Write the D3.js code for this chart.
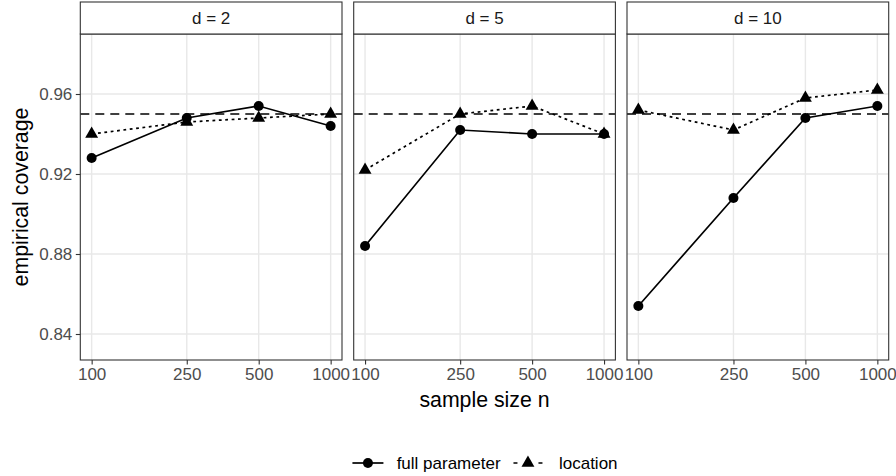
<!DOCTYPE html>
<html>
<head>
<meta charset="utf-8">
<script src="https://cdn.jsdelivr.net/npm/d3@7"></script>
<style>
  html, body { margin: 0; padding: 0; background: #ffffff; }
  svg { display: block; font-family: "Liberation Sans", Arial, Helvetica, sans-serif; }
</style>
</head>
<body>
<svg id="chart" width="896" height="476"></svg>
<script>
// ---------------- data ----------------
const sampleSizes = [100, 250, 500, 1000];
const panelLabels = ["d = 2", "d = 5", "d = 10"];
const seriesNames = ["full parameter", "location"];

const fullD2  = [0.928, 0.948, 0.954, 0.944];
const fullD5  = [0.884, 0.942, 0.940, 0.940];
const fullD10 = [0.854, 0.908, 0.948, 0.954];

const locD2  = [0.940, 0.946, 0.948, 0.950];
const locD5  = [0.922, 0.950, 0.954, 0.940];
const locD10 = [0.952, 0.942, 0.958, 0.962];

const nominalLevel = 0.95;
const yTicks = [0.84, 0.88, 0.92, 0.96];
const xTicks = [100, 250, 500, 1000];
const xTickLabels = ["100", "250", "500", "1000"];
const yLabel = "empirical coverage";
const xLabel = "sample size n";

const fullByPanel = [fullD2, fullD5, fullD10];
const locByPanel = [locD2, locD5, locD10];

// ---------------- layout ----------------
const svg = d3.select("#chart");
const panelLefts = [80.3, 353.7, 627.0];
const panelW = 261.7;
const stripTop = 2, stripBottom = 34, plotBottom = 360;
const small = 17, big = 21.3;
const gridCol = "#E8E8E8", borderCol = "#333333";
const lw = 1.7;
const dotted = "2.8,3.6";

const y = d3.scaleLinear().domain([0.827, 0.99]).range([plotBottom, stripBottom]);
const ex = Math.pow(10, 0.0475);
const x = d3.scaleLog().domain([100 / ex, 1000 * ex]).range([0, panelW]);

const lineGen = d3.line().x(d => x(d[0])).y(d => y(d[1]));
const circleR = 5;
const tri = d3.symbol().type(d3.symbolTriangle).size(72);

panelLabels.forEach((lab, i) => {
  const g = svg.append("g").attr("transform", `translate(${panelLefts[i]},0)`);
  g.append("rect").attr("x", 0).attr("y", stripBottom).attr("width", panelW)
    .attr("height", plotBottom - stripBottom).attr("fill", "#fff");
  g.selectAll(".hg").data(yTicks).enter().append("line")
    .attr("x1", 0).attr("x2", panelW).attr("y1", d => y(d)).attr("y2", d => y(d))
    .attr("stroke", gridCol).attr("stroke-width", 1.4);
  g.selectAll(".vg").data(xTicks).enter().append("line")
    .attr("y1", stripBottom).attr("y2", plotBottom).attr("x1", d => x(d)).attr("x2", d => x(d))
    .attr("stroke", gridCol).attr("stroke-width", 1.4);

  g.append("line").attr("x1", 0).attr("x2", panelW)
    .attr("y1", y(nominalLevel)).attr("y2", y(nominalLevel))
    .attr("stroke", "#000").attr("stroke-width", lw).attr("stroke-dasharray", "9,6");

  const fullPts = sampleSizes.map((n, k) => [n, fullByPanel[i][k]]);
  const locPts = sampleSizes.map((n, k) => [n, locByPanel[i][k]]);

  g.append("path").attr("d", lineGen(fullPts)).attr("fill", "none")
    .attr("stroke", "#000").attr("stroke-width", lw);
  g.append("path").attr("d", lineGen(locPts)).attr("fill", "none")
    .attr("stroke", "#000").attr("stroke-width", lw).attr("stroke-dasharray", dotted);

  g.selectAll(".pt").data(fullPts).enter().append("circle")
    .attr("cx", d => x(d[0])).attr("cy", d => y(d[1])).attr("r", circleR).attr("fill", "#000");
  g.selectAll(".tr").data(locPts).enter().append("path")
    .attr("d", tri).attr("transform", d => `translate(${x(d[0])},${y(d[1])})`).attr("fill", "#000");

  g.append("rect").attr("x", 0).attr("y", stripBottom).attr("width", panelW)
    .attr("height", plotBottom - stripBottom).attr("fill", "none")
    .attr("stroke", borderCol).attr("stroke-width", 1.1);
  g.append("rect").attr("x", 0).attr("y", stripTop).attr("width", panelW)
    .attr("height", stripBottom - stripTop).attr("fill", "#fff")
    .attr("stroke", borderCol).attr("stroke-width", 1.1);
  g.append("text").attr("x", panelW / 2).attr("y", (stripTop + stripBottom) / 2)
    .attr("dy", "0.36em").attr("text-anchor", "middle")
    .attr("font-size", small).attr("fill", "#1A1A1A").text(lab);

  const xAxis = d3.axisBottom(x).tickValues(xTicks)
    .tickFormat((d, k) => xTickLabels[k]).tickSizeInner(4.5).tickSizeOuter(0).tickPadding(3.5);
  const xa = g.append("g").attr("transform", `translate(0,${plotBottom})`).call(xAxis);
  xa.select(".domain").remove();
  xa.selectAll("line").attr("stroke", borderCol).attr("stroke-width", 1.1);
  xa.selectAll("text").attr("font-size", small).attr("fill", "#4D4D4D")
    .attr("font-family", "Liberation Sans, Arial, sans-serif");

  if (i === 0) {
    const yAxis = d3.axisLeft(y).tickValues(yTicks).tickFormat(d3.format(".2f"))
      .tickSizeInner(4.5).tickSizeOuter(0).tickPadding(3.5);
    const ya = g.append("g").call(yAxis);
    ya.select(".domain").remove();
    ya.selectAll("line").attr("stroke", borderCol).attr("stroke-width", 1.1);
    ya.selectAll("text").attr("font-size", small).attr("fill", "#4D4D4D")
      .attr("font-family", "Liberation Sans, Arial, sans-serif");
  }
});

const plotsCenterX = (panelLefts[0] + panelLefts[2] + panelW) / 2;
svg.append("text").attr("x", plotsCenterX).attr("y", 406.7).attr("text-anchor", "middle")
  .attr("font-size", big).attr("fill", "#000").text(xLabel);
svg.append("text")
  .attr("transform", `translate(28,${(stripBottom + plotBottom) / 2}) rotate(-90)`)
  .attr("text-anchor", "middle").attr("font-size", big).attr("fill", "#000").text(yLabel);

// legend
const legY = 463;
const leg = svg.append("g");
const keyW = 31;
const k1 = leg.append("g");
k1.append("line").attr("x1", -keyW / 2).attr("x2", keyW / 2).attr("y1", 0).attr("y2", 0)
  .attr("stroke", "#000").attr("stroke-width", lw);
k1.append("circle").attr("r", circleR).attr("fill", "#000");
const t1 = leg.append("text").attr("font-size", small).attr("dy", "0.36em").text(seriesNames[0]);
const k2 = leg.append("g");
k2.append("line").attr("x1", -14.5).attr("x2", 14.5).attr("y1", 0).attr("y2", 0)
  .attr("stroke", "#000").attr("stroke-width", lw).attr("stroke-dasharray", "4,21,4");
k2.append("path").attr("d", tri).attr("fill", "#000");
const t2 = leg.append("text").attr("font-size", small).attr("dy", "0.36em").text(seriesNames[1]);

const w1 = t1.node().getComputedTextLength();
const w2 = t2.node().getComputedTextLength();
const k1c = keyW / 2;
const t1x = k1c + 28.7;
const k2c = t1x + w1 + 27.4;
const t2x = k2c + 31;
const total = t2x + w2;
const left = plotsCenterX - total / 2 + 0.5;
k1.attr("transform", `translate(${left + k1c},${legY})`);
t1.attr("x", left + t1x).attr("y", legY);
k2.attr("transform", `translate(${left + k2c},${legY})`);
t2.attr("x", left + t2x).attr("y", legY);
</script>
</body>
</html>
